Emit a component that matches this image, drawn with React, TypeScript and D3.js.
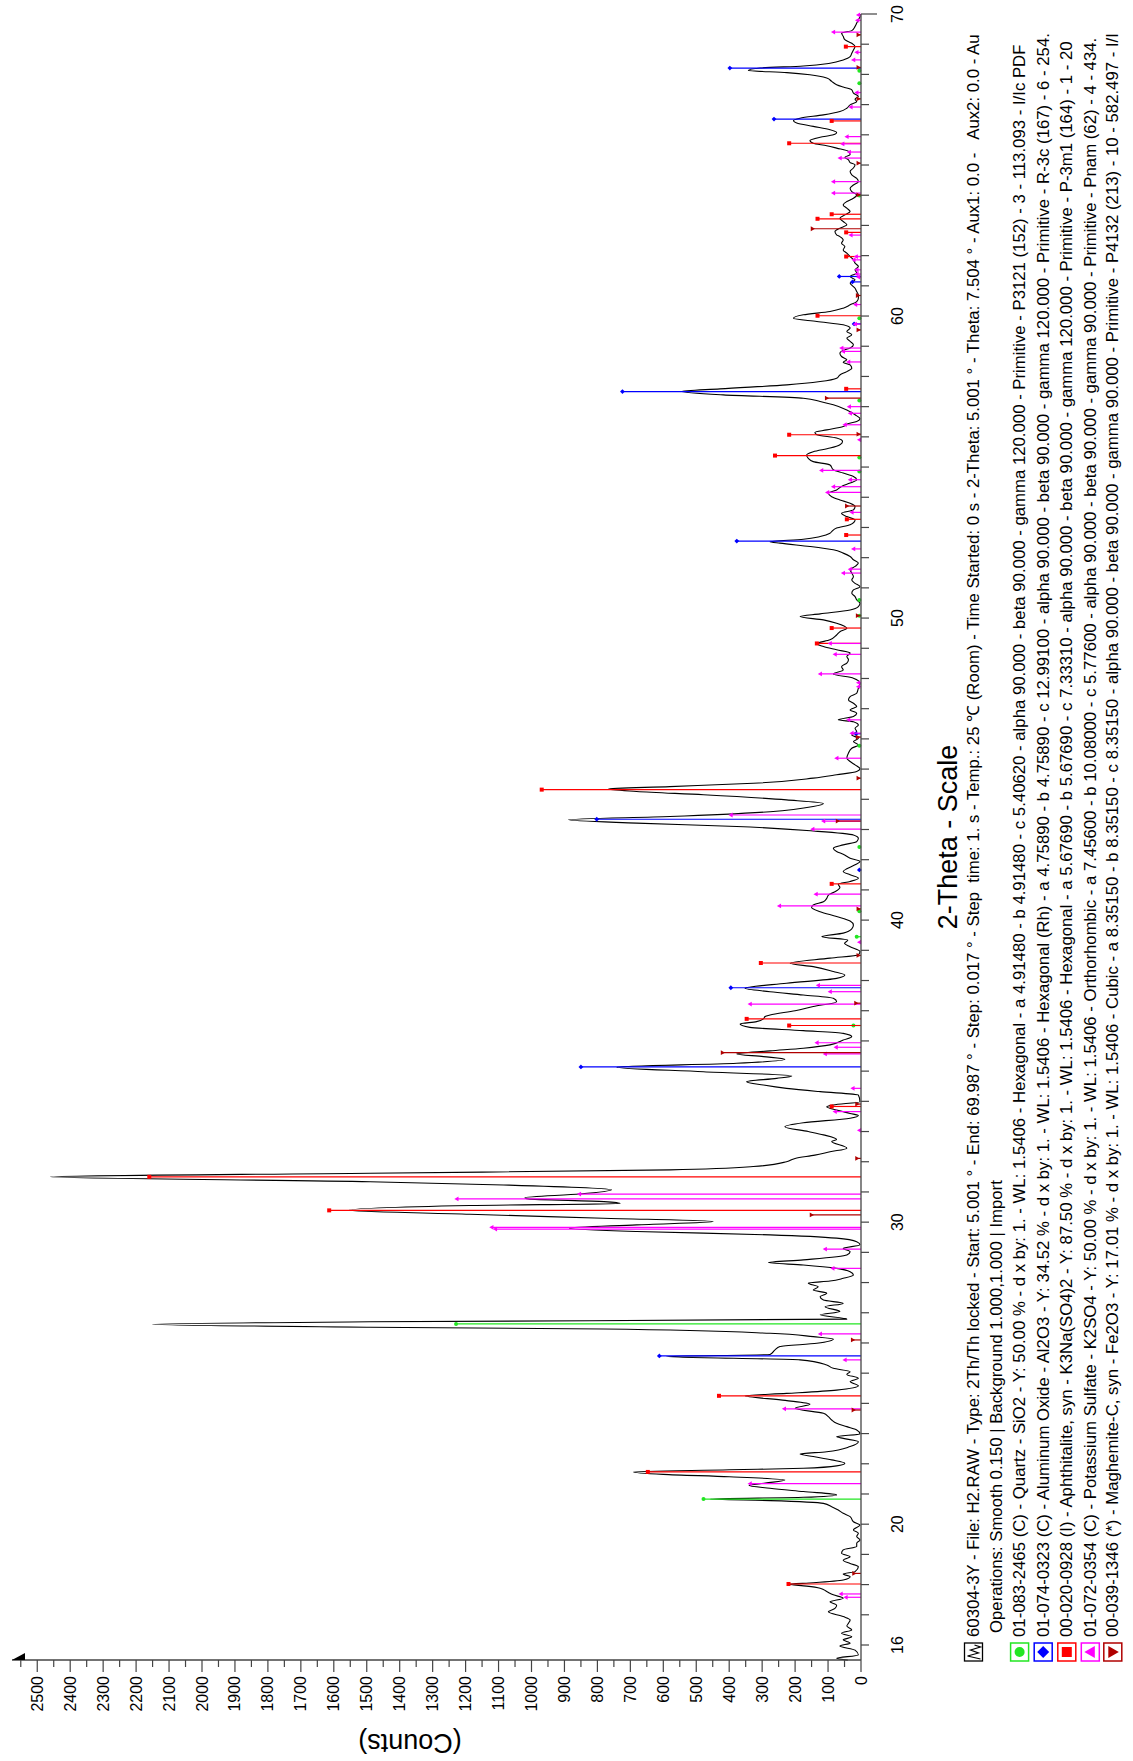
import React from "react";
import * as d3 from "d3";

// ---- measured XRD pattern: [2-theta (deg), counts] ----
const patternData: [number, number][] = [
  [15.5, 40], [15.56, 74], [15.67, 8], [15.83, 18], [15.97, 64], [16.06, 33], [16.17, 54], [16.27, 28], [16.39, 59], [16.5, 28],
  [16.63, 43], [16.72, 38], [16.83, 33], [16.94, 54], [17.1, 99], [17.21, 79], [17.32, 74], [17.43, 94], [17.55, 54], [17.66, 84],
  [17.77, 104], [17.88, 124], [17.95, 165], [18.01, 220], [18.06, 145], [18.15, 54], [18.26, 33], [18.35, 54], [18.43, 18], [18.59, 8],
  [18.7, 33], [18.81, 54], [18.92, 33], [19.04, 59], [19.15, 54], [19.26, 13], [19.37, 13], [19.48, 3], [19.59, 13], [19.7, 8],
  [19.81, 23], [19.97, 3], [20.08, 23], [20.25, 33], [20.36, 54], [20.47, 69], [20.58, 89], [20.69, 114], [20.78, 276], [20.83, 458],
  [20.89, 175], [20.97, 74], [21.08, 175], [21.19, 276], [21.28, 340], [21.36, 290], [21.46, 231], [21.57, 400], [21.65, 600], [21.73, 691],
  [21.8, 400], [21.85, 175], [21.93, 74], [22.02, 49], [22.13, 89], [22.24, 145], [22.32, 185], [22.4, 104], [22.57, 33], [22.73, 8],
  [22.84, 54], [22.9, 74], [22.99, 3], [23.12, 13], [23.23, 43], [23.34, 74], [23.45, 89], [23.56, 99], [23.67, 114], [23.84, 200],
  [23.97, 155], [24.1, 230], [24.25, 352], [24.33, 226], [24.44, 74], [24.58, 8], [24.72, 33], [24.83, 8], [24.96, 43], [25.05, 33],
  [25.16, 84], [25.27, 104], [25.44, 185], [25.55, 590], [25.62, 276], [25.77, 261], [25.88, 246], [25.99, 134], [26.13, 84], [26.21, 145],
  [26.32, 276], [26.46, 782], [26.52, 1490], [26.62, 2150], [26.7, 1490], [26.79, 43], [26.93, 124], [27.04, 64], [27.2, 109], [27.31, 54],
  [27.42, 114], [27.53, 124], [27.65, 104], [27.75, 145], [27.86, 130], [27.98, 160], [28.05, 94], [28.14, 54], [28.25, 23], [28.36, 33],
  [28.47, 74], [28.58, 175], [28.66, 281], [28.75, 175], [28.91, 43], [29.02, 33], [29.13, 54], [29.25, 3], [29.35, 13], [29.47, 74],
  [29.58, 276], [29.69, 681], [29.8, 885], [29.91, 681], [30.02, 448], [30.13, 782], [30.26, 1187], [30.39, 1555], [30.55, 1187], [30.62, 731],
  [30.68, 780], [30.77, 1010], [30.81, 1020], [30.93, 853], [31.07, 757], [31.23, 1085], [31.34, 1490], [31.5, 2460], [31.62, 1490], [31.73, 580],
  [31.84, 327], [32.0, 226], [32.11, 200], [32.22, 140], [32.33, 94], [32.45, 43], [32.67, 89], [32.74, 74], [32.89, 114], [33.0, 160],
  [33.16, 231], [33.29, 175], [33.44, 33], [33.53, 8], [33.6, 33], [33.71, 74], [33.82, 104], [33.88, 84], [33.99, 3], [34.21, 8],
  [34.32, 124], [34.43, 226], [34.54, 296], [34.65, 347], [34.76, 256], [34.84, 210], [34.98, 478], [35.13, 741], [35.26, 377], [35.39, 231],
  [35.48, 296], [35.57, 377], [35.67, 276], [35.76, 175], [35.87, 94], [36.03, 54], [36.14, 28], [36.25, 54], [36.34, 175], [36.45, 337],
  [36.56, 367], [36.64, 317], [36.73, 296], [36.81, 291], [36.86, 276], [37.0, 200], [37.14, 145], [37.3, 74], [37.41, 84], [37.52, 175],
  [37.63, 276], [37.74, 352], [37.91, 226], [38.07, 74], [38.18, 49], [38.3, 84], [38.46, 145], [38.57, 215], [38.74, 94], [38.85, 8],
  [38.96, 3], [39.12, 33], [39.23, 50], [39.34, 40], [39.45, 119], [39.57, 54], [39.71, 28], [39.84, 23], [39.97, 33], [40.12, 74],
  [40.28, 124], [40.42, 150], [40.5, 145], [40.61, 114], [40.72, 104], [40.83, 99], [40.94, 79], [41.08, 64], [41.19, 69], [41.28, 33],
  [41.39, 8], [41.5, 33], [41.61, 54], [41.7, 43], [41.83, 18], [41.94, 3], [42.05, 33], [42.18, 54], [42.27, 74], [42.38, 84],
  [42.49, 54], [42.6, 13], [42.71, 8], [42.82, 23], [42.95, 145], [43.1, 377], [43.21, 681], [43.32, 888], [43.43, 580], [43.59, 276],
  [43.76, 145], [43.86, 114], [43.98, 226], [44.15, 478], [44.26, 681], [44.34, 767], [44.42, 580], [44.53, 327], [44.7, 145], [44.81, 74],
  [44.92, 13], [45.01, 3], [45.14, 18], [45.25, 33], [45.36, 43], [45.53, 38], [45.69, 28], [45.8, 8], [45.91, 23], [46.02, 8],
  [46.13, 28], [46.24, 13], [46.35, 18], [46.46, 8], [46.57, 23], [46.63, 69], [46.74, 23], [46.85, 13], [46.96, 33], [47.07, 13],
  [47.18, 23], [47.29, 38], [47.4, 33], [47.51, 13], [47.68, 8], [47.84, 3], [48.01, 23], [48.15, 84], [48.28, 54], [48.39, 59],
  [48.51, 43], [48.62, 38], [48.73, 43], [48.84, 33], [48.95, 74], [49.06, 114], [49.15, 134], [49.28, 94], [49.44, 74], [49.55, 64],
  [49.66, 43], [49.83, 74], [49.94, 114], [50.05, 185], [50.14, 124], [50.27, 33], [50.38, 8], [50.49, 3], [50.6, 13], [50.71, 18],
  [50.82, 28], [50.93, 23], [51.04, 3], [51.15, 18], [51.26, 28], [51.37, 23], [51.49, 28], [51.6, 33], [51.71, 18], [51.82, 8],
  [51.93, 23], [52.04, 33], [52.15, 54], [52.26, 84], [52.37, 155], [52.48, 246], [52.53, 276], [52.61, 175], [52.7, 124], [52.81, 94],
  [52.86, 89], [52.98, 74], [53.09, 33], [53.25, 18], [53.36, 43], [53.47, 59], [53.58, 23], [53.69, 18], [53.8, 33], [53.91, 64],
  [54.02, 89], [54.13, 99], [54.24, 74], [54.36, 59], [54.47, 33], [54.58, 13], [54.69, 23], [54.8, 54], [54.91, 84], [55.07, 94],
  [55.18, 145], [55.29, 160], [55.4, 165], [55.51, 145], [55.63, 94], [55.74, 64], [55.85, 56], [55.96, 74], [56.07, 134], [56.15, 140],
  [56.23, 104], [56.34, 54], [56.42, 43], [56.51, 13], [56.6, 3], [56.73, 18], [56.89, 43], [57.06, 84], [57.17, 124], [57.28, 175],
  [57.39, 418], [57.5, 544], [57.59, 428], [57.72, 225], [57.83, 124], [57.94, 74], [58.05, 64], [58.16, 43], [58.27, 28], [58.38, 33],
  [58.47, 54], [58.55, 43], [58.66, 59], [58.77, 64], [58.88, 49], [58.94, 33], [59.05, 23], [59.16, 33], [59.27, 43], [59.38, 28],
  [59.49, 43], [59.6, 33], [59.71, 54], [59.82, 134], [59.93, 205], [60.04, 175], [60.15, 94], [60.26, 54], [60.37, 33], [60.48, 13],
  [60.59, 8], [60.7, 8], [60.81, 13], [60.92, 18], [61.09, 33], [61.2, 18], [61.31, 33], [61.42, 13], [61.53, 18], [61.64, 8],
  [61.75, 18], [61.86, 23], [61.97, 33], [62.08, 43], [62.19, 54], [62.3, 49], [62.41, 59], [62.52, 54], [62.63, 64], [62.69, 74],
  [62.8, 79], [62.91, 64], [63.02, 43], [63.13, 54], [63.24, 64], [63.35, 49], [63.46, 33], [63.57, 43], [63.68, 54], [63.79, 43],
  [63.9, 23], [64.01, 13], [64.12, 28], [64.23, 33], [64.34, 23], [64.45, 8], [64.56, 13], [64.67, 28], [64.79, 33], [64.9, 23],
  [65.01, 18], [65.08, 33], [65.17, 38], [65.26, 49], [65.34, 33], [65.45, 38], [65.56, 74], [65.64, 104], [65.72, 145], [65.81, 155],
  [65.92, 124], [66.0, 84], [66.08, 74], [66.17, 94], [66.28, 145], [66.39, 195], [66.47, 205], [66.55, 185], [66.66, 114], [66.77, 64],
  [66.88, 43], [66.99, 33], [67.1, 13], [67.18, 18], [67.27, 8], [67.38, 23], [67.49, 28], [67.58, 54], [67.66, 74], [67.77, 89],
  [67.88, 104], [67.99, 155], [68.06, 225], [68.13, 342], [68.21, 306], [68.28, 175], [68.37, 94], [68.48, 54], [68.59, 33], [68.7, 28],
  [68.81, 23], [68.92, 18], [69.03, 28], [69.15, 49], [69.26, 54], [69.37, 59], [69.45, 28], [69.59, 18], [69.7, 13], [69.81, 8],
  [69.92, 3], [70.0, 3],
];

// ---- reference stick patterns: [2-theta, counts] ----
const quartzSticks: [number, number][] = [
  [20.83, 478], [26.63, 1229], [36.51, 23], [39.45, 13], [40.29, 5], [42.42, 5], [45.77, 5], [50.08, 5], [50.6, 5],
  [54.85, 5], [55.32, 5], [57.2, 5], [59.93, 5], [63.99, 5], [67.71, 5], [68.12, 5],
];
const corundumSticks: [number, number][] = [
  [25.57, 612], [35.14, 850], [37.76, 395], [41.66, 5], [43.34, 802], [46.17, 15], [52.55, 377], [57.5, 724],
  [59.74, 21], [61.13, 26], [61.31, 66], [66.52, 264], [68.21, 398],
];
const aphthitaliteSticks: [number, number][] = [
  [18.02, 220], [21.73, 647], [24.25, 431], [30.39, 1614], [31.5, 2160], [33.83, 89], [36.51, 218], [36.73, 347],
  [38.58, 304], [41.2, 89], [44.32, 969], [49.16, 134], [49.67, 89], [52.75, 45], [53.27, 43], [55.38, 261],
  [56.07, 218], [57.59, 45], [60.01, 132], [61.97, 45], [62.77, 45], [63.22, 132], [63.37, 89], [65.72, 218],
  [66.46, 89], [68.92, 46],
];
const arcaniteSticks: [number, number][] = [
  [17.58, 46], [17.69, 61], [21.34, 337], [23.82, 233], [25.44, 49], [26.3, 124], [28.47, 86], [29.11, 109],
  [29.77, 1110], [29.83, 1121], [30.77, 1227], [30.93, 855], [33.04, 5], [33.66, 79], [34.43, 25], [35.57, 109],
  [35.79, 76], [35.94, 134], [37.22, 337], [37.63, 94], [37.84, 130], [39.27, 5], [40.47, 248], [40.86, 137],
  [43.01, 147], [43.28, 114], [43.48, 395], [45.36, 74], [46.19, 28], [46.63, 38], [47.73, 8], [47.86, 8],
  [48.15, 124], [48.8, 79], [49.16, 94], [51.49, 54], [51.62, 33], [52.29, 23], [53.5, 28], [54.16, 102],
  [54.35, 84], [54.58, 33], [54.89, 120], [55.9, 5], [56.4, 49], [56.78, 33], [57.0, 36], [58.48, 38],
  [58.83, 54], [58.94, 59], [59.73, 18], [60.38, 17], [61.29, 8], [61.39, 13], [61.53, 13], [61.86, 22],
  [61.97, 15], [62.68, 31], [64.07, 84], [64.45, 84], [65.23, 64], [65.43, 36], [65.7, 56], [65.94, 43],
  [66.92, 31], [67.4, 13], [68.48, 23], [68.73, 13], [69.4, 84], [69.79, 11], [69.97, 8],
];
const maghemiteSticks: [number, number][] = [
  [18.37, 21], [23.78, 23], [26.1, 25], [30.24, 150], [32.11, 12], [33.91, 12], [35.61, 420], [37.25, 15],
  [38.83, 8], [40.37, 8], [43.28, 71], [44.7, 8], [46.06, 10], [50.08, 10], [53.71, 43], [56.09, 8],
  [57.28, 104], [59.54, 8], [60.68, 10], [62.89, 147], [64.01, 8], [65.06, 8], [67.19, 8], [68.23, 8], [69.31, 8],
];

const thetaTickLabels = [16, 20, 30, 40, 50, 60, 70];
const thetaMinorTicks = [16, 17, 18, 19, 20, 21, 22, 23, 24, 25, 26, 27, 28, 29, 30, 31, 32, 33, 34, 35, 36, 37, 38, 39, 40, 41, 42, 43, 44, 45, 46, 47, 48, 49, 50, 51, 52, 53, 54, 55, 56, 57, 58, 59, 60, 61, 62, 63, 64, 65, 66, 67, 68, 69, 70];
const countTickLabels = [0, 100, 200, 300, 400, 500, 600, 700, 800, 900, 1000, 1100, 1200, 1300, 1400, 1500, 1600, 1700, 1800, 1900, 2000, 2100, 2200, 2300, 2400, 2500];
const countMinorTicks = [50, 150, 250, 350, 450, 550, 650, 750, 850, 950, 1050, 1150, 1250, 1350, 1450, 1550, 1650, 1750, 1850, 1950, 2050, 2150, 2250, 2350, 2450, 2550];

const headerLine = "60304-3Y - File: H2.RAW - Type: 2Th/Th locked - Start: 5.001 ° - End: 69.987 ° - Step: 0.017 ° - Step  time: 1. s - Temp.: 25 ℃ (Room) - Time Started: 0 s - 2-Theta: 5.001 ° - Theta: 7.504 ° - Aux1: 0.0 -   Aux2: 0.0 - Au";
const operationsLine = "Operations: Smooth 0.150 | Background 1.000,1.000 | Import";
const phaseLines = [
  "01-083-2465 (C) - Quartz - SiO2 - Y: 50.00 % - d x by: 1. - WL: 1.5406 - Hexagonal - a 4.91480 - b 4.91480 - c 5.40620 - alpha 90.000 - beta 90.000 - gamma 120.000 - Primitive - P3121 (152) - 3 - 113.093 - I/Ic PDF",
  "01-074-0323 (C) - Aluminum Oxide - Al2O3 - Y: 34.52 % - d x by: 1. - WL: 1.5406 - Hexagonal (Rh) - a 4.75890 - b 4.75890 - c 12.99100 - alpha 90.000 - beta 90.000 - gamma 120.000 - Primitive - R-3c (167) - 6 - 254.",
  "00-020-0928 (I) - Aphthitalite, syn - K3Na(SO4)2 - Y: 87.50 % - d x by: 1. - WL: 1.5406 - Hexagonal - a 5.67690 - b 5.67690 - c 7.33310 - alpha 90.000 - beta 90.000 - gamma 120.000 - Primitive - P-3m1 (164) - 1 - 20",
  "01-072-0354 (C) - Potassium Sulfate - K2SO4 - Y: 50.00 % - d x by: 1. - WL: 1.5406 - Orthorhombic - a 7.45600 - b 10.08000 - c 5.77600 - alpha 90.000 - beta 90.000 - gamma 90.000 - Primitive - Pnam (62) - 4 - 434.",
  "00-039-1346 (*) - Maghemite-C, syn - Fe2O3 - Y: 17.01 % - d x by: 1. - WL: 1.5406 - Cubic - a 8.35150 - b 8.35150 - c 8.35150 - alpha 90.000 - beta 90.000 - gamma 90.000 - Primitive - P4132 (213) - 10 - 582.497 - I/I",
];
const phaseColors = ["#22e622", "#0000ff", "#ff0000", "#ff00ff", "#b00000"];
const phaseShapes = ["circle", "diamond", "square", "triUp", "triDown"];
const phaseSticks = [quartzSticks, corundumSticks, aphthitaliteSticks, arcaniteSticks, maghemiteSticks];

const FONT = "'Liberation Sans', Arial, Helvetica, sans-serif";

function Symbol({ shape, x, y, color, s }: { shape: string; x: number; y: number; color: string; s: number }) {
  let el: React.ReactNode = null;
  if (shape === "circle") el = <circle cx={0} cy={0} r={s * 0.5} fill={color} />;
  else if (shape === "diamond") el = <path d={`M0,${-s * 0.6}L${s * 0.6},0L0,${s * 0.6}L${-s * 0.6},0Z`} fill={color} />;
  else if (shape === "square") el = <rect x={-s / 2} y={-s / 2} width={s} height={s} fill={color} />;
  else if (shape === "triUp") el = <path d={`M0,${-s * 0.6}L${s * 0.6},${s * 0.45}L${-s * 0.6},${s * 0.45}Z`} fill={color} />;
  else if (shape === "triDown") el = <path d={`M0,${s * 0.6}L${s * 0.6},${-s * 0.45}L${-s * 0.6},${-s * 0.45}Z`} fill={color} />;
  return <g transform={`translate(${x},${y}) rotate(-90)`}>{el}</g>;
}

export default function App() {
  const W = 1133;
  const H = 1761;
  const axisX = 861; // counts = 0 (2-theta axis line)
  const axisY = 1660; // count axis line (2-theta = 15.5)
  const tScale = d3.scaleLinear().domain([16, 70]).range([1645, 14]);
  const cScale = d3.scaleLinear().domain([0, 2500]).range([axisX, 37.25]);
  const lineGen = d3
    .line<[number, number]>()
    .x((d) => cScale(d[1]))
    .y((d) => tScale(d[0]))
    .curve(d3.curveMonotoneY);
  const curvePath = lineGen([...patternData].reverse()) || "";

  const legendX = [973.5, 996, 1019.6, 1043.2, 1066.8, 1090.3, 1112.8];
  const legendStartY = 1637;
  const iconCY = 1652;
  const legendFont = 16.75;

  return (
    <div style={{ position: "absolute", left: 0, top: 0 }}>
      <svg width={W} height={H} viewBox={`0 0 ${W} ${H}`} style={{ display: "block", background: "#fff" }} fontFamily={FONT}>
        <rect x={0} y={0} width={W} height={H} fill="#fff" />

        {/* data curve */}
        <path d={curvePath} fill="none" stroke="#000" strokeWidth={1.1} strokeLinejoin="round" />

        {/* stick patterns */}
        {phaseSticks.map((sticks, pi) => (
          <g key={pi}>
            {sticks.map(([t, c], i) => (
              <g key={i}>
                <line x1={axisX} x2={cScale(c)} y1={tScale(t)} y2={tScale(t)} stroke={phaseColors[pi]} strokeWidth={1.2} />
                <Symbol shape={phaseShapes[pi]} x={cScale(c)} y={tScale(t)} color={phaseColors[pi]} s={4} />
              </g>
            ))}
          </g>
        ))}

        {/* 2-theta axis */}
        <line x1={axisX} x2={axisX} y1={axisY} y2={tScale(70)} stroke="#444" strokeWidth={1.3} />
        {thetaMinorTicks.map((v) => (
          <line key={v} x1={axisX} x2={axisX + (v === 70 ? 16 : 8)} y1={tScale(v)} y2={tScale(v)} stroke="#444" strokeWidth={1.2} />
        ))}
        {thetaTickLabels.map((v) => (
          <text key={v} transform={`translate(897,${tScale(v)}) rotate(-90)`} textAnchor="middle" dominantBaseline="central" fontSize={16} fill="#000">
            {v}
          </text>
        ))}

        {/* counts axis */}
        <line x1={axisX} x2={12} y1={axisY} y2={axisY} stroke="#444" strokeWidth={1.3} />
        <path d={`M12,${axisY}L25,${axisY}L25,${axisY - 7}Z`} fill="#000" />
        {countTickLabels.map((v) => (
          <line key={v} x1={cScale(v)} x2={cScale(v)} y1={axisY} y2={axisY + 12} stroke="#444" strokeWidth={1.2} />
        ))}
        {countMinorTicks.map((v) => (
          <line key={v} x1={cScale(v)} x2={cScale(v)} y1={axisY} y2={axisY + 7} stroke="#444" strokeWidth={1.2} />
        ))}
        {countTickLabels.map((v) => (
          <text key={v} transform={`translate(${cScale(v)},1676) rotate(-90)`} textAnchor="end" dominantBaseline="central" fontSize={16} fill="#000">
            {v}
          </text>
        ))}
        <text transform={`translate(410,1743) rotate(180)`} textAnchor="middle" dominantBaseline="central" fontSize={27} fill="#000">
          (Counts)
        </text>

        {/* x title */}
        <text transform={`translate(948,837) rotate(-90)`} textAnchor="middle" dominantBaseline="central" fontSize={27} fill="#000">
          2-Theta - Scale
        </text>

        {/* legend */}
        <g transform={`translate(${legendX[0]},${iconCY}) rotate(-90)`}>
          <rect x={-9} y={-9} width={18} height={18} fill="#fff" stroke="#000" strokeWidth={1.3} />
          <polyline points="-7,7 -4,-6 -1,5 2,-3 5,7 7,1" fill="none" stroke="#000" strokeWidth={1.2} />
        </g>
        <text transform={`translate(${legendX[0]},${legendStartY}) rotate(-90)`} dominantBaseline="central" fontSize={legendFont} style={{ whiteSpace: "pre" }}>
          {headerLine}
        </text>
        <text transform={`translate(${legendX[1]},${legendStartY - 4}) rotate(-90)`} dominantBaseline="central" fontSize={legendFont} style={{ whiteSpace: "pre" }}>
          {operationsLine}
        </text>
        {phaseLines.map((txt, i) => (
          <g key={i}>
            <g transform={`translate(${legendX[i + 2]},${iconCY}) rotate(-90)`}>
              <rect x={-9} y={-9} width={18} height={18} fill="#fff" stroke={phaseColors[i]} strokeWidth={1.5} />
            </g>
            <Symbol shape={phaseShapes[i]} x={legendX[i + 2]} y={iconCY} color={phaseColors[i]} s={10} />
            <text transform={`translate(${legendX[i + 2]},${legendStartY}) rotate(-90)`} dominantBaseline="central" fontSize={legendFont} style={{ whiteSpace: "pre" }}>
              {txt}
            </text>
          </g>
        ))}
      </svg>
    </div>
  );
}
